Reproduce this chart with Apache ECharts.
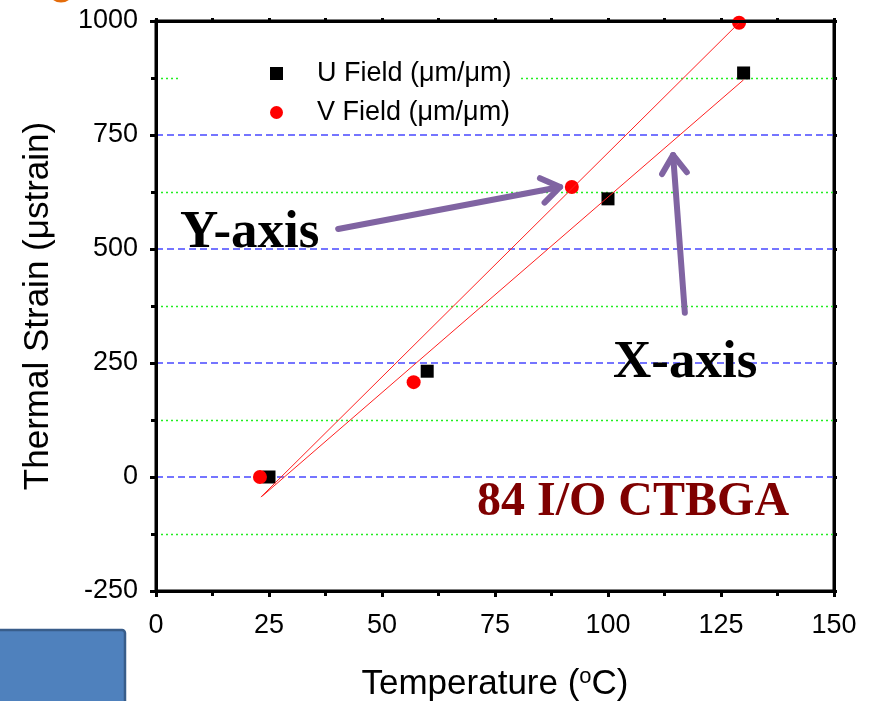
<!DOCTYPE html>
<html>
<head>
    <meta charset="utf-8">
    <title>Thermal Strain</title>
    <script src="https://cdn.jsdelivr.net/npm/echarts@6/dist/echarts.min.js"></script>
    <style>
        html, body { margin: 0; padding: 0; background: #fff; }
        #chart1 { width: 872px; height: 701px; }
    </style>
</head>
<body>
<div id="chart1"></div>
<script type="text/javascript">
// 数据
var uTemp = [25, 60, 100, 130];
var uStrain = [0, 232, 610, 886];
var vTemp = [23, 57, 92, 129];
var vStrain = [0, 208, 636, 996];
// fitted lines, end points
var uFitTemp = [23.5, 130];
var uFitStrain = [-42, 871];
var vFitTemp = [23.2, 129];
var vFitStrain = [-44, 996];
// annotation arrows (data coords): [from, to]
var yArrow = [[40.3, 544], [89.4, 636]];
var xArrow = [[117, 360], [114.4, 706]];

function pairs(xs, ys) {
    return xs.map(function (x, i) { return [x, ys[i]]; });
}

var myChart1 = echarts.init(document.getElementById('chart1'));
var font = '"Liberation Sans", Arial, sans-serif';
var serif = '"Liberation Serif", "Times New Roman", serif';

// plain frame axis (top / right), no labels
function frameAxis(pos, min, max, step) {
    return {
        type: 'value', position: pos, min: min, max: max, interval: step, z: 5,
        axisLine: { show: true, onZero: false, lineStyle: { color: '#000', width: 3 } },
        axisTick: { show: true, inside: false, length: 3, lineStyle: { color: '#000', width: 3 } },
        minorTick: { show: true, splitNumber: 2, length: 3, lineStyle: { color: '#000', width: 3 } },
        axisLabel: { show: false },
        splitLine: { show: false }
    };
}

myChart1.setOption({
    animation: false,
    backgroundColor: '#fff',
    grid: {
        left: 156, right: 38, top: 21, bottom: 110,
        outerBoundsMode: 'none', containLabel: false,
        show: true, borderColor: '#000', borderWidth: 3
    },
    legend: {
        orient: 'vertical',
        left: 180, top: 56,
        itemWidth: 13, itemHeight: 13,
        itemGap: 12,
        backgroundColor: '#fff',
        padding: [4, 8, 4, 90],
        data: [
            { name: 'U Field (μm/μm)', icon: 'rect' },
            { name: 'V Field (μm/μm)', icon: 'circle' }
        ],
        textStyle: { fontFamily: font, fontSize: 27, color: '#000', padding: [0, 0, 0, 29] }
    },
    xAxis: [{
        type: 'value', min: 0, max: 150, interval: 25,
        name: 'Temperature ({sup|o}C)',
        nameLocation: 'middle', nameGap: 75,
        nameTextStyle: {
            fontFamily: font, fontSize: 35, color: '#000',
            rich: { sup: { fontFamily: font, fontSize: 22, verticalAlign: 'bottom', padding: [0, 0, 14, 0], color: '#000' } }
        },
        axisLine: { show: true, onZero: false, lineStyle: { color: '#000', width: 3 } },
        axisTick: { show: true, inside: false, length: 6, lineStyle: { color: '#000', width: 3 } },
        minorTick: { show: true, splitNumber: 2, length: 5, lineStyle: { color: '#000', width: 3 } },
        axisLabel: { fontFamily: font, fontSize: 27, color: '#000', margin: 21 },
        splitLine: { show: false }
    }, frameAxis('top', 0, 150, 25)],
    yAxis: [{
        type: 'value', min: -250, max: 1000, interval: 250,
        name: 'Thermal Strain (μstrain)',
        nameLocation: 'middle', nameGap: 100,
        nameTextStyle: { fontFamily: font, fontSize: 35, color: '#000' },
        axisLine: { show: true, onZero: false, lineStyle: { color: '#000', width: 3 } },
        axisTick: { show: true, inside: false, length: 6, lineStyle: { color: '#000', width: 3 } },
        minorTick: { show: true, splitNumber: 2, length: 5, lineStyle: { color: '#000', width: 3 } },
        axisLabel: { fontFamily: font, fontSize: 27, color: '#000', margin: 18, formatter: function (v) { return String(v); } },
        splitLine: { show: true, lineStyle: { color: '#4848ff', width: 1.5, type: [7, 4] } },
        minorSplitLine: { show: true, lineStyle: { color: '#22ee22', width: 1.4, type: [2, 3] } }
    }, frameAxis('right', -250, 1000, 250)],
    series: [
        {
            name: 'V fit', type: 'line', data: pairs(vFitTemp, vFitStrain),
            showSymbol: false, silent: true,
            lineStyle: { color: '#ff2020', width: 1 }
        },
        {
            name: 'U fit', type: 'line', data: pairs(uFitTemp, uFitStrain),
            showSymbol: false, silent: true,
            lineStyle: { color: '#ff2020', width: 1 }
        },
        {
            name: 'U Field (μm/μm)', type: 'scatter', symbol: 'rect', symbolSize: 13,
            data: pairs(uTemp, uStrain),
            itemStyle: { color: '#000', opacity: 1 }
        },
        {
            name: 'V Field (μm/μm)', type: 'scatter', symbol: 'circle', symbolSize: 14,
            data: pairs(vTemp, vStrain),
            itemStyle: { color: '#ff0000', opacity: 1 }
        }
    ]
});

// arrows + text annotations
function arrowShapes(seg) {
    var p0 = myChart1.convertToPixel({ gridIndex: 0 }, seg[0]);
    var p1 = myChart1.convertToPixel({ gridIndex: 0 }, seg[1]);
    var ang = Math.atan2(p1[1] - p0[1], p1[0] - p0[0]);
    var len = 22, spread = 0.6;
    var a1 = [p1[0] - len * Math.cos(ang - spread), p1[1] - len * Math.sin(ang - spread)];
    var a2 = [p1[0] - len * Math.cos(ang + spread), p1[1] - len * Math.sin(ang + spread)];
    var st = { stroke: '#8064a2', lineWidth: 6, lineCap: 'round', lineJoin: 'round', fill: null };
    return [
        { type: 'polyline', shape: { points: [p0, p1] }, style: st, z: 50 },
        { type: 'polyline', shape: { points: [a1, p1, a2] }, style: st, z: 50 }
    ];
}

var gfx = [].concat(arrowShapes(yArrow), arrowShapes(xArrow));
gfx.push(
    { type: 'text', x: 180, y: 207, z: 60, style: { text: 'Y-axis', font: 'bold 53px ' + serif, fill: '#000' } },
    { type: 'text', x: 613, y: 337, z: 60, style: { text: 'X-axis', font: 'bold 53px ' + serif, fill: '#000' } },
    { type: 'text', x: 477, y: 479, z: 60, style: { text: '84 I/O CTBGA', font: 'bold 48px ' + serif, fill: '#7f0000' } },
    { type: 'rect', shape: { x: -4, y: 630, width: 129, height: 80, r: [0, 3, 0, 0] }, style: { fill: '#4f81bd', stroke: '#385d8a', lineWidth: 2.5 }, z: 60 },
    { type: 'circle', shape: { cx: 61, cy: -11, r: 12 }, style: { fill: null, stroke: '#e46c0a', lineWidth: 3 }, z: 60 }
);
myChart1.setOption({ graphic: gfx });
</script>
</body>
</html>
